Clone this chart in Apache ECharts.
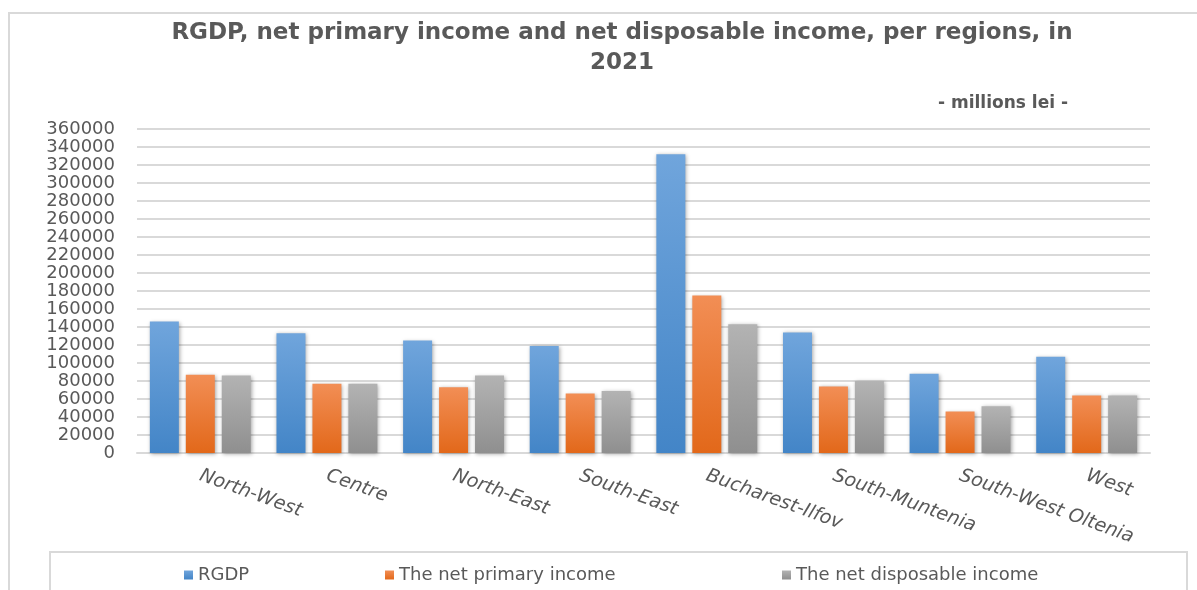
<!DOCTYPE html>
<html>
<head>
<meta charset="utf-8">
<script src="https://cdn.jsdelivr.net/npm/echarts@6/dist/echarts.min.js"></script>
<style>
  html, body { margin: 0; padding: 0; background: #fff; }
  #chart { width: 1197px; height: 590px; }
</style>
</head>
<body>
<div id="chart"></div>
<script>
/* RGDP, net primary income and net disposable income per region, 2021 */
var regions = ['North-West', 'Centre', 'North-East', 'South-East', 'Bucharest-Ilfov',
  'South-Muntenia', 'South-West Oltenia', 'West'];
var rgdp = [146000, 133000, 125000, 119000, 332000, 134000, 88000, 107000];
var netPrimary = [87000, 77000, 73000, 66000, 175000, 74000, 46000, 64000];
var netDisposable = [86000, 77000, 86000, 69000, 143000, 80000, 52000, 64000];
var seriesNames = ['RGDP', 'The net primary income', 'The net disposable income'];

(function () {
  'use strict';
  var chart = echarts.init(document.getElementById('chart'), null, { renderer: 'canvas' });
  var font = '"DejaVu Sans", sans-serif';

  function grad(top, bottom) {
    return new echarts.graphic.LinearGradient(0, 0, 0, 1, [
      { offset: 0, color: top },
      { offset: 1, color: bottom }
    ]);
  }

  var barStyle = function (top, bottom) {
    return {
      color: grad(top, bottom),
      shadowColor: 'rgba(0,0,0,0.35)',
      shadowBlur: 4,
      shadowOffsetX: 1,
      shadowOffsetY: 1
    };
  };

  // one legend per item so each sits where the original puts it
  var legendLeft = [184, 385, 782];
  var legends = seriesNames.map(function (name, i) {
    return {
      left: legendLeft[i],
      top: 566,
      padding: 0,
      itemWidth: 9,
      itemHeight: 9,
      icon: 'rect',
      textStyle: { fontFamily: font, fontSize: 18, color: '#595959' },
      data: [name]
    };
  });

  var option = {
    backgroundColor: '#fff',
    animation: false,
    color: ['#5b9bd5', '#ed7d31', '#a5a5a5'],
    title: [{
      text: 'RGDP, net primary income and net disposable income, per regions, in\n2021',
      left: 617,
      top: 13,
      textAlign: 'center',
      textStyle: {
        fontFamily: font,
        fontWeight: 'bold',
        fontSize: 23,
        lineHeight: 30,
        color: '#595959'
      }
    }, {
      text: '- millions lei -',
      right: 124,
      top: 90,
      textStyle: {
        fontFamily: font,
        fontWeight: 'bold',
        fontSize: 17,
        color: '#595959'
      }
    }],
    legend: legends,
    grid: { left: 137, right: 47, top: 129, bottom: 137 },
    xAxis: {
      type: 'category',
      data: regions,
      axisTick: { show: false },
      axisLine: { lineStyle: { color: '#d9d9d9', width: 2 } },
      axisLabel: {
        rotate: -20,
        margin: 22,
        interval: 0,
        fontFamily: font,
        fontStyle: 'italic',
        fontSize: 19,
        color: '#595959'
      }
    },
    yAxis: {
      type: 'value',
      min: 0,
      max: 360000,
      interval: 20000,
      axisLine: { show: false },
      axisTick: { show: false },
      splitLine: { lineStyle: { color: '#d9d9d9', width: 2 } },
      axisLabel: {
        margin: 22,
        formatter: function (v) { return String(v); },
        fontFamily: font,
        fontSize: 18,
        color: '#595959'
      }
    },
    graphic: [{
      type: 'rect',
      shape: { x: 9, y: 13, width: 1200, height: 600 },
      style: { fill: 'none', stroke: '#d9d9d9', lineWidth: 2 },
      z: -1
    }, {
      type: 'rect',
      shape: { x: 50, y: 552, width: 1137, height: 60 },
      style: { fill: 'none', stroke: '#d9d9d9', lineWidth: 2 },
      z: -1
    }],
    series: [{
      name: seriesNames[0],
      type: 'bar',
      data: rgdp,
      barWidth: 29,
      barGap: '24%',
      itemStyle: barStyle('#70a5dc', '#4385c7')
    }, {
      name: seriesNames[1],
      type: 'bar',
      data: netPrimary,
      barWidth: 29,
      barGap: '24%',
      itemStyle: barStyle('#f28e55', '#e2681a')
    }, {
      name: seriesNames[2],
      type: 'bar',
      data: netDisposable,
      barWidth: 29,
      barGap: '24%',
      itemStyle: barStyle('#b3b3b3', '#8f8f8f')
    }]
  };

  chart.setOption(option);
  window.addEventListener('resize', function () { chart.resize(); });
})();
</script>
</body>
</html>
